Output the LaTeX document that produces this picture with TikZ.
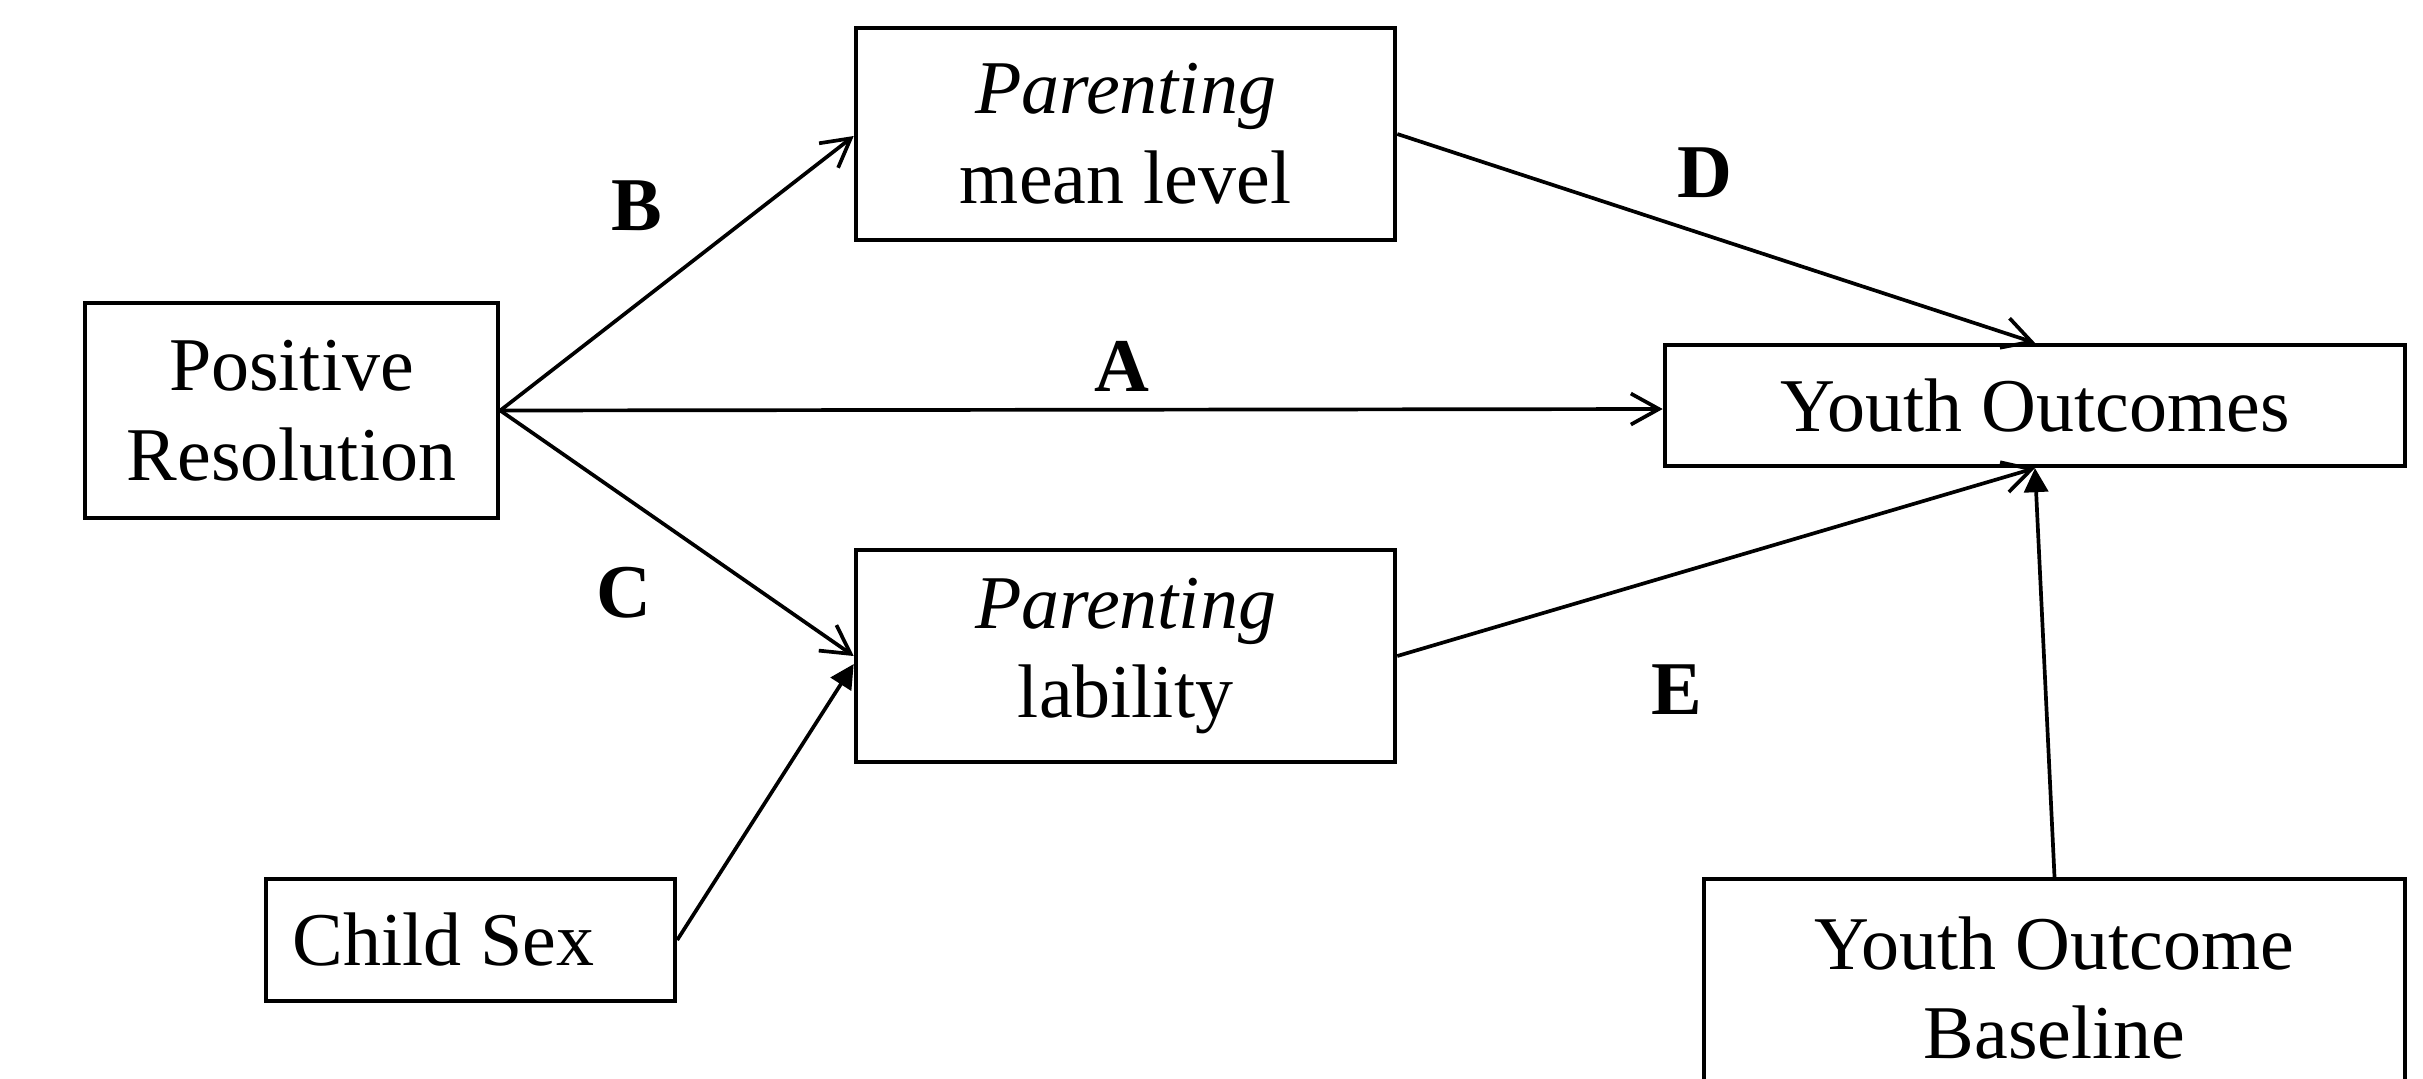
\documentclass[tikz,border=0pt]{standalone}
\usepackage{fontspec}
\setmainfont{Liberation Serif}
\usetikzlibrary{arrows.meta,positioning,calc}

\begin{document}
\begin{tikzpicture}[x=0.01cm,y=-0.01cm,
  font=\fontsize{21.6}{25.5}\selectfont,
  box/.style={rectangle,draw,line width=1.2pt,align=center,inner sep=0pt},
  path/.style={font=\fontsize{21.6}{25.5}\selectfont\bfseries,inner sep=0pt},
  arr/.style={-{Straight Barb[length=2.8mm,width=3.1mm]},line width=1.05pt},
  farr/.style={-{Triangle[length=2.4mm,width=2.4mm]},line width=1.05pt}]

  \useasboundingbox (0,0) rectangle (2423,1078);

  % predictor and covariate
  \node[box,minimum width=4.13cm,minimum height=2.15cm] (pr) at (291.5,410.5) {Positive\\Resolution};
  \node[box,minimum width=4.09cm,minimum height=1.22cm,text width=3.55cm,align=flush left] (cs) at (470.5,940) {\mbox{Child Sex}};

  % mediators
  \node[box,minimum width=5.39cm,minimum height=2.12cm] (mean) at (1125.5,134) {\textit{Parenting}\\mean level};
  \node[box,minimum width=5.39cm,minimum height=2.12cm] (lab) at (1125.5,656) {\textit{Parenting}\\lability};

  % outcomes
  \node[box,minimum width=7.40cm,minimum height=1.21cm] (yo) at (2035,405.5) {Youth Outcomes};
  \node[box,minimum width=7.01cm,minimum height=2.18cm] (bl) at (2054.5,988) {Youth Outcome\\Baseline};

  % paths
  \draw[arr] (pr.east) -- ($(mean.west)+(0,2)$);
  \draw[arr] (pr.east) -- ($(yo.west)+(0,3.5)$);
  \draw[arr] (pr.east) -- (lab.west);
  \draw[farr] (cs.east) -- ($(lab.west)+(0,8)$);
  \draw[arr] (mean.east) -- (yo.north);
  \draw[arr] (lab.east) -- (yo.south);
  \draw[farr] (bl.north) -- (yo.south);

  % path labels
  \node[path] (la) at (1122,366) {A};
  \node[path] (lb) at (637,206) {B};
  \node[path] (lc) at (624,593) {C};
  \node[path] (ld) at (1705,173) {D};
  \node[path] (le) at (1677,690) {E};
\end{tikzpicture}
\end{document}
